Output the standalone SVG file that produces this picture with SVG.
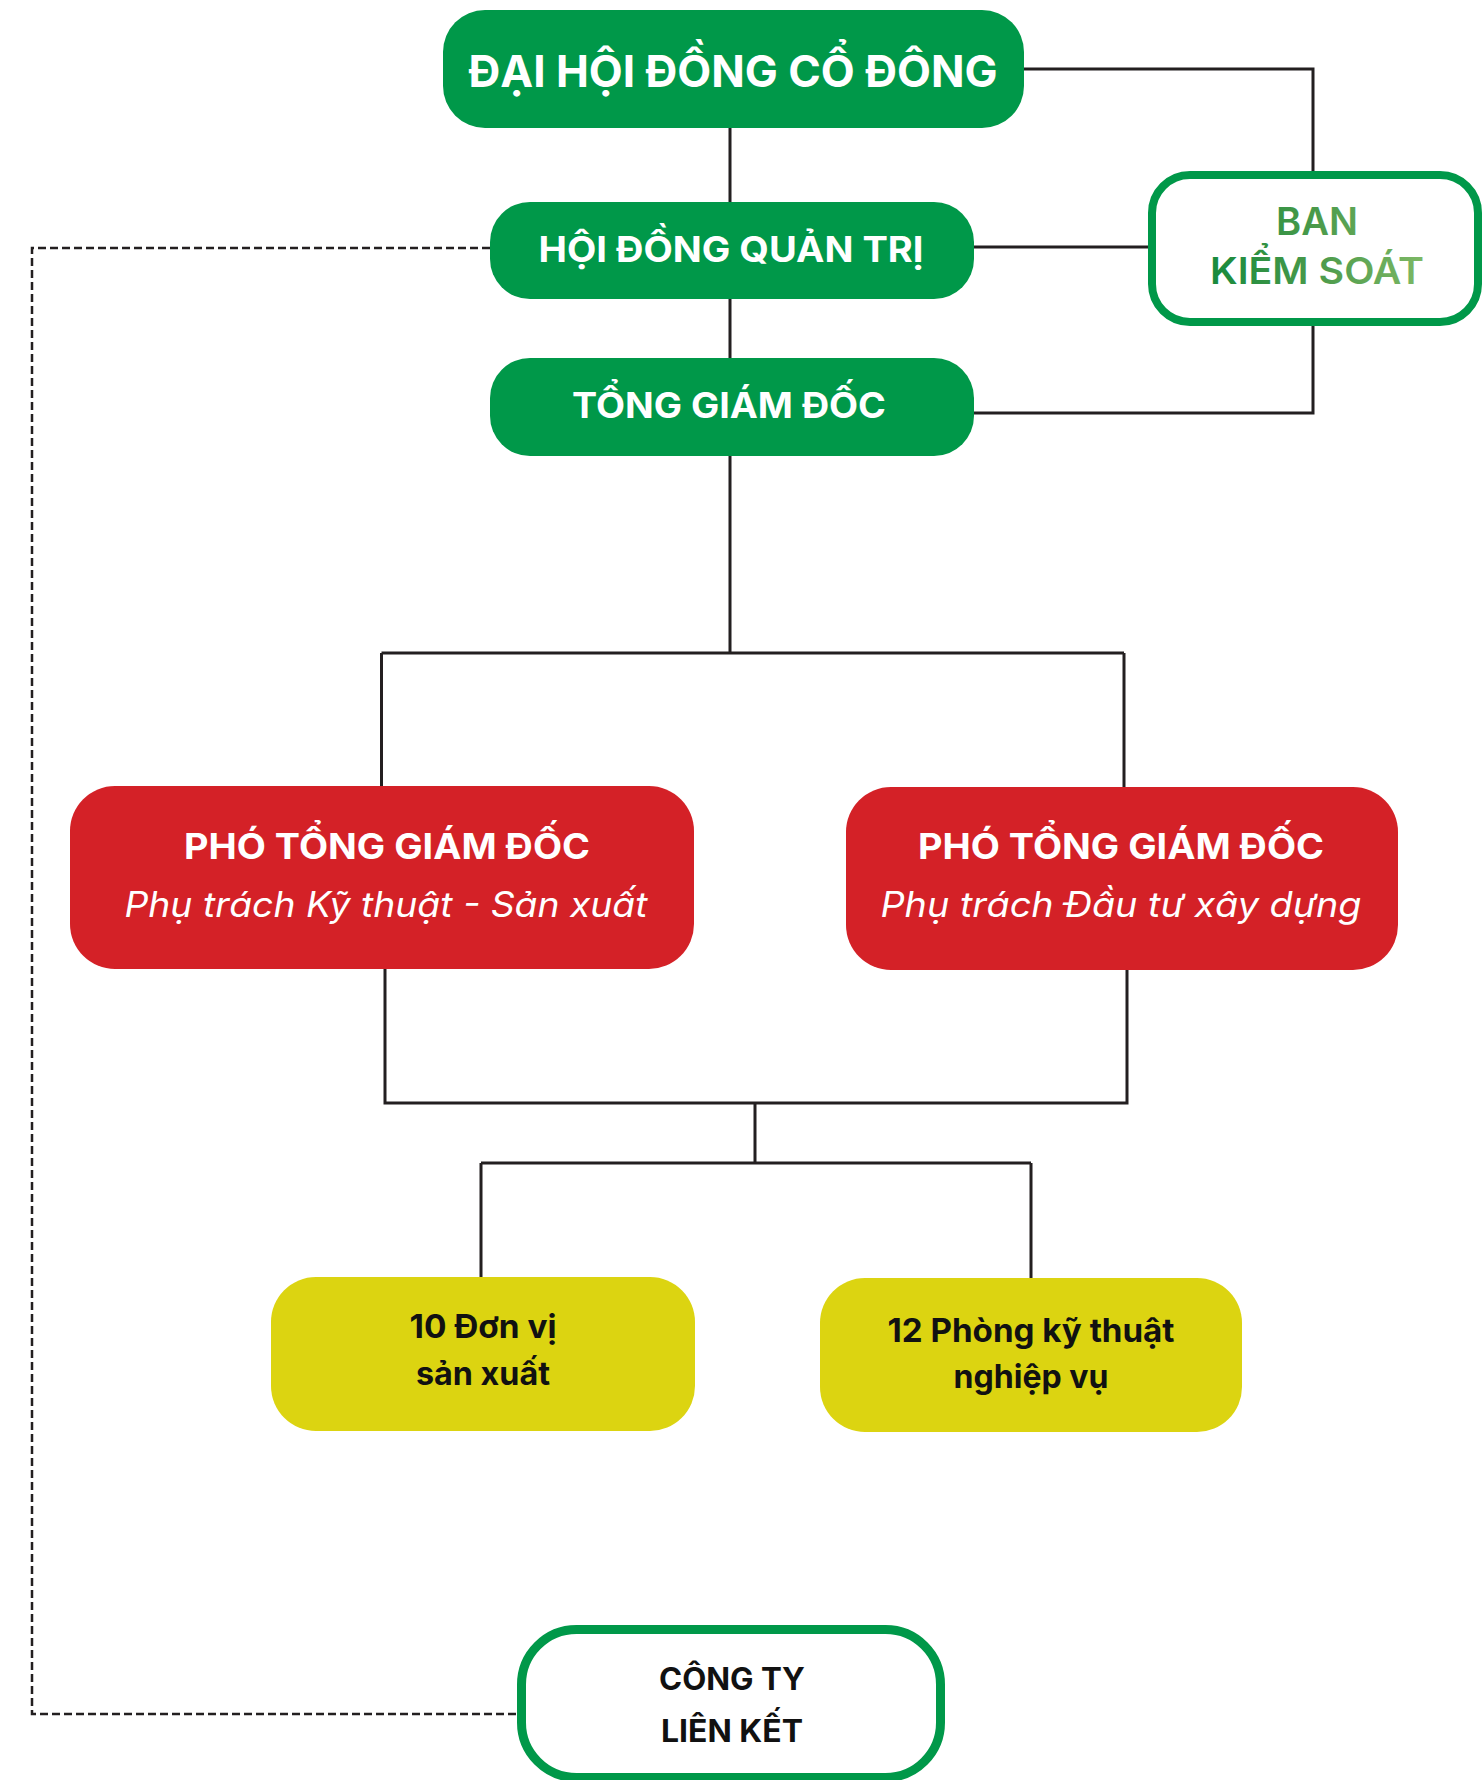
<svg xmlns="http://www.w3.org/2000/svg" width="1484" height="1780" viewBox="0 0 1484 1780">
<style>
.g{fill:#009849}
.r{fill:#d42127}
.y{fill:#dcd411}
.o{fill:#fff;stroke:#009849;stroke-width:8}
.tw{fill:#fff;font-family:Inter,"Noto Sans",sans-serif;font-weight:700;text-anchor:middle}
.ti{fill:#fff;font-family:Inter,"Noto Sans",sans-serif;font-weight:400;font-style:italic;text-anchor:middle}
.tb{fill:#111;font-family:Inter,"Noto Sans",sans-serif;font-weight:700;text-anchor:middle}
.tg{fill:url(#gg);font-family:Inter,"Noto Sans",sans-serif;font-weight:600;text-anchor:middle}
.c{fill:none;stroke:#231f20;stroke-width:3}
.d{fill:none;stroke:#231f20;stroke-width:2.5;stroke-dasharray:8 4}
</style>
<defs>
<linearGradient id="gg" gradientUnits="userSpaceOnUse" x1="1210" y1="0" x2="1424" y2="0">
<stop offset="0" stop-color="#178a3c"/>
<stop offset="0.5" stop-color="#4b9a4b"/>
<stop offset="1" stop-color="#7db865"/>
</linearGradient>
</defs>
<rect width="1484" height="1780" fill="#fff"/>
<g id="connectors">
<path class="c" d="M730 128V202M730 299V358M730 456V653M381.5 653H1124M381.5 653V786M1124 653V787"/>
<path class="c" d="M1024 69H1313V175M974 247H1152M1313 322V413H974"/>
<path class="c" d="M385 969V1103H1127V970M755 1103V1163M481 1163H1031M481 1163V1277M1031 1163V1278"/>
<path class="d" d="M490 248H32V1714H519"/>
</g>
<g id="dhdcd">
<rect class="g" x="443" y="10" width="581" height="118" rx="42"/>
<text class="tw" x="733" y="87" font-size="44" textLength="529" lengthAdjust="spacingAndGlyphs">ĐẠI HỘI ĐỒNG CỔ ĐÔNG</text>
</g>
<g id="hdqt">
<rect class="g" x="490" y="202" width="484" height="97" rx="40"/>
<text class="tw" x="731" y="262" font-size="35" textLength="385" lengthAdjust="spacingAndGlyphs">HỘI ĐỒNG QUẢN TRỊ</text>
</g>
<g id="tgd">
<rect class="g" x="490" y="358" width="484" height="98" rx="40"/>
<text class="tw" x="729" y="418" font-size="35" textLength="314" lengthAdjust="spacingAndGlyphs">TỔNG GIÁM ĐỐC</text>
</g>
<g id="bks">
<rect class="o" x="1152" y="175" width="326" height="147" rx="38"/>
<text class="tg" x="1317" y="235" font-size="38" textLength="82" lengthAdjust="spacingAndGlyphs">BAN</text>
<text class="tg" x="1317" y="284" font-size="37" textLength="214" lengthAdjust="spacingAndGlyphs">KIỂM SOÁT</text>
</g>
<g id="ptgd1">
<rect class="r" x="70" y="786" width="624" height="183" rx="45"/>
<text class="tw" x="387" y="859" font-size="35" textLength="406" lengthAdjust="spacingAndGlyphs">PHÓ TỔNG GIÁM ĐỐC</text>
<text class="ti" x="386" y="917" font-size="35" textLength="523" lengthAdjust="spacingAndGlyphs">Phụ trách Kỹ thuật - Sản xuất</text>
</g>
<g id="ptgd2">
<rect class="r" x="846" y="787" width="552" height="183" rx="45"/>
<text class="tw" x="1121" y="859" font-size="35" textLength="406" lengthAdjust="spacingAndGlyphs">PHÓ TỔNG GIÁM ĐỐC</text>
<text class="ti" x="1121" y="917" font-size="35" textLength="481" lengthAdjust="spacingAndGlyphs">Phụ trách Đầu tư xây dựng</text>
</g>
<g id="donvi">
<rect class="y" x="271" y="1277" width="424" height="154" rx="45"/>
<text class="tb" x="483" y="1338" font-size="32" textLength="147" lengthAdjust="spacingAndGlyphs">10 Đơn vị</text>
<text class="tb" x="483" y="1385" font-size="32" textLength="134" lengthAdjust="spacingAndGlyphs">sản xuất</text>
</g>
<g id="phong">
<rect class="y" x="820" y="1278" width="422" height="154" rx="45"/>
<text class="tb" x="1031" y="1342" font-size="32" textLength="287" lengthAdjust="spacingAndGlyphs">12 Phòng kỹ thuật</text>
<text class="tb" x="1031" y="1388" font-size="32" textLength="155" lengthAdjust="spacingAndGlyphs">nghiệp vụ</text>
</g>
<g id="congty">
<rect fill="#fff" stroke="#009849" stroke-width="9" x="521.5" y="1629.5" width="419" height="148" rx="55"/>
<text class="tb" x="732" y="1690" font-size="31" textLength="146" lengthAdjust="spacingAndGlyphs">CÔNG TY</text>
<text class="tb" x="732" y="1742" font-size="31" textLength="142" lengthAdjust="spacingAndGlyphs">LIÊN KẾT</text>
</g>
</svg>
